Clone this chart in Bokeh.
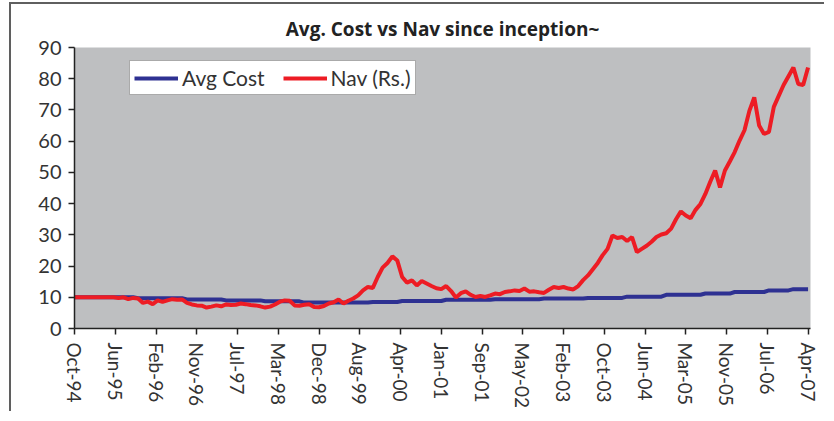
from bokeh.plotting import figure
from bokeh.models import Range1d, FixedTicker, Legend, LegendItem
from bokeh.embed import file_html
from bokeh.resources import INLINE

# ---------------- data (monthly, Oct-94 .. Apr-07) ----------------
tick_labels = ["Oct-94", "Jun-95", "Feb-96", "Nov-96", "Jul-97", "Mar-98", "Dec-98",
               "Aug-99", "Apr-00", "Jan-01", "Sep-01", "May-02", "Feb-03", "Oct-03",
               "Jun-04", "Mar-05", "Nov-05", "Jul-06", "Apr-07"]

nav = [10.0, 10.0, 10.0, 10.0, 10.0, 10.0, 10.0, 10.0, 10.0, 9.8,
       10.0, 9.4, 9.8, 9.6, 8.2, 8.6, 7.8, 9.0, 8.5, 9.0,
       9.4, 9.2, 9.3, 8.2, 7.7, 7.4, 7.3, 6.7, 7.0, 7.4,
       7.1, 7.7, 7.5, 7.6, 8.0, 7.8, 7.5, 7.4, 7.1, 6.7,
       7.0, 7.7, 8.6, 9.0, 8.9, 7.4, 7.3, 7.6, 7.8, 6.9,
       6.8, 7.2, 8.0, 8.4, 9.3, 8.0, 8.9, 9.6, 10.6, 12.2,
       13.3, 13.0, 16.5, 19.5, 21.0, 23.1, 21.8, 16.5, 14.7, 15.4,
       13.8, 15.2, 14.4, 13.6, 12.9, 12.6, 13.6, 12.0, 9.9, 11.3,
       11.9, 10.8, 10.1, 10.4, 10.1, 10.6, 11.2, 11.0, 11.7, 11.9,
       12.2, 12.0, 12.8, 11.8, 11.9, 11.6, 11.4, 12.4, 13.3, 13.0,
       13.3, 12.8, 12.5, 13.6, 15.5, 17.0, 19.0, 21.0, 23.5, 25.5,
       29.8, 29.0, 29.3, 28.0, 29.3, 24.5, 25.5, 26.5, 27.8, 29.3,
       30.1, 30.5, 32.0, 35.0, 37.5, 36.2, 35.3, 38.0, 39.9, 43.1,
       47.0, 50.6, 45.2, 50.6, 53.5, 56.5, 60.2, 63.5, 69.7, 74.0,
       65.0, 62.3, 63.0, 71.0, 74.5, 78.0, 80.8, 83.6, 78.3, 78.0,
       83.6]

avg_cost = [10.0, 10.0, 10.0, 10.0, 10.0, 10.0, 10.0, 10.0, 10.0, 10.0,
            10.0, 10.0, 10.0, 9.7, 9.7, 9.7, 9.7, 9.7, 9.7, 9.7,
            9.7, 9.7, 9.7, 9.3, 9.3, 9.3, 9.3, 9.3, 9.3, 9.3,
            9.3, 9.0, 9.0, 9.0, 9.0, 9.0, 9.0, 9.0, 9.0, 8.7,
            8.7, 8.7, 8.7, 8.7, 8.7, 8.7, 8.7, 8.3, 8.3, 8.3,
            8.3, 8.3, 8.3, 8.3, 8.3, 8.3, 8.3, 8.3, 8.3, 8.3,
            8.3, 8.5, 8.5, 8.5, 8.5, 8.5, 8.5, 8.8, 8.8, 8.8,
            8.8, 8.8, 8.8, 8.8, 8.8, 8.8, 9.2, 9.2, 9.2, 9.2,
            9.2, 9.2, 9.2, 9.2, 9.2, 9.2, 9.4, 9.4, 9.4, 9.4,
            9.4, 9.4, 9.4, 9.4, 9.4, 9.4, 9.6, 9.6, 9.6, 9.6,
            9.6, 9.6, 9.6, 9.6, 9.6, 9.8, 9.8, 9.8, 9.8, 9.8,
            9.8, 9.8, 9.8, 10.2, 10.2, 10.2, 10.2, 10.2, 10.2, 10.2,
            10.2, 10.8, 10.8, 10.8, 10.8, 10.8, 10.8, 10.8, 10.8, 11.2,
            11.2, 11.2, 11.2, 11.2, 11.2, 11.7, 11.7, 11.7, 11.7, 11.7,
            11.7, 11.7, 12.2, 12.2, 12.2, 12.2, 12.2, 12.6, 12.6, 12.6,
            12.6]

months = list(range(len(nav)))
y_ticks = [0, 10, 20, 30, 40, 50, 60, 70, 80, 90]

# ---------------- styling ----------------
FONT = "Lato"
TXT = "#333333"
BLUE = "#2E3192"
RED = "#ED1C24"
GREY_BG = "#BEBFC1"

n_int = len(tick_labels) - 1
span = months[-1]
tick_pos = [i * span / n_int for i in range(len(tick_labels))]

p = figure(width=815, height=409, output_backend="svg", toolbar_location=None,
           x_range=Range1d(0, span + 0.5), y_range=Range1d(0, 90),
           min_border_left=63, min_border_right=16, min_border_top=43, min_border_bottom=85)

# outer chart border: only its left and top edges fall inside the picture
p.styles = {"margin-left": "9px", "margin-top": "2px",
            "border-left": "2px solid #5f5f5f", "border-top": "2px solid #5f5f5f"}

p.title.text = "Avg. Cost vs Nav since inception~"
p.title.text_font = "Open Sans"
p.title.text_font_size = "19px"
p.title.text_font_style = "bold"
p.title.text_color = "#222222"
p.title.align = "center"
p.title.standoff = 12

p.background_fill_color = GREY_BG
p.border_fill_color = "white"
p.outline_line_color = None
p.xgrid.visible = False
p.ygrid.visible = False

r_cost = p.line(months, avg_cost, line_color=BLUE, line_width=4)
r_nav = p.line(months, nav, line_color=RED, line_width=4)

# axes
p.yaxis.ticker = FixedTicker(ticks=y_ticks)
p.xaxis.ticker = FixedTicker(ticks=tick_pos)
p.xaxis.major_label_overrides = {tp: lab for tp, lab in zip(tick_pos, tick_labels)}
p.xaxis.major_label_orientation = "vertical"

for ax in (p.xaxis[0], p.yaxis[0]):
    ax.axis_line_color = "#222222"
    ax.axis_line_width = 1.5
    ax.major_tick_line_color = "#222222"
    ax.major_tick_line_width = 1.5
    ax.major_tick_out = 6
    ax.major_tick_in = 0
    ax.minor_tick_line_color = None
    ax.major_label_text_font = FONT
    ax.major_label_text_color = TXT
    ax.major_label_text_font_size = "20px"

p.yaxis.major_label_standoff = 7
p.xaxis.major_label_standoff = 8
p.xaxis.major_label_text_font_size = "19px"

legend = Legend(items=[LegendItem(label="Avg Cost", renderers=[r_cost]),
                       LegendItem(label="Nav (Rs.)", renderers=[r_nav])],
                orientation="horizontal", location=(55, 233),
                label_text_font=FONT, label_text_font_size="21px", label_text_color=TXT,
                glyph_width=44, glyph_height=22, label_height=22, label_standoff=4,
                spacing=18, padding=4, margin=0,
                border_line_color="#555555", border_line_width=1.5,
                background_fill_color="white", background_fill_alpha=1.0)
p.add_layout(legend, "center")

open("out.html", "w").write(file_html(p, INLINE))
